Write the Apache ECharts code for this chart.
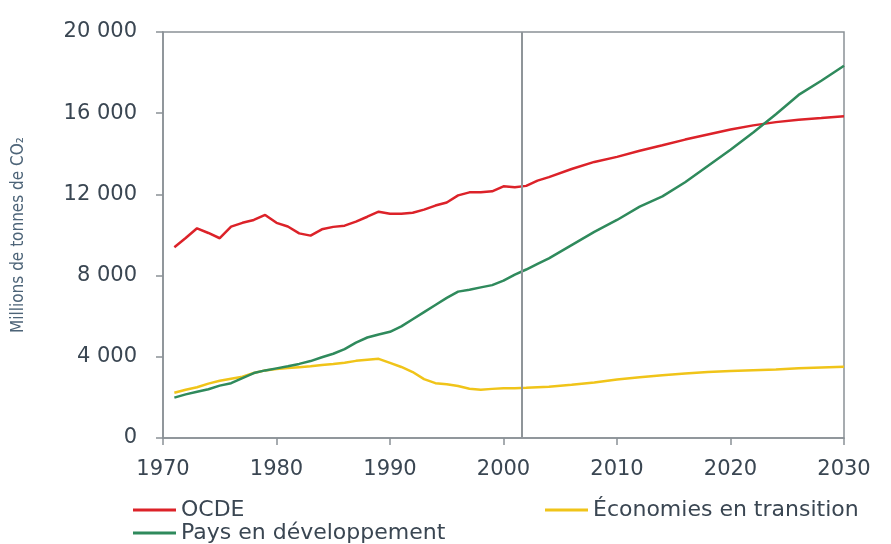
<!DOCTYPE html>
<html>
<head>
<meta charset="utf-8">
<script src="https://cdn.jsdelivr.net/npm/echarts@6/dist/echarts.min.js"></script>
<style>
  html, body { margin: 0; padding: 0; background: #fff; }
  #chart { width: 891px; height: 544px; }
</style>
</head>
<body>
<div id="chart"></div>
<script>
// années (pas régulier après 2004, courbes lisses)
const years = [1971, 1972, 1973, 1974, 1975, 1976, 1977, 1978, 1979, 1980,
  1981, 1982, 1983, 1984, 1985, 1986, 1987, 1988, 1989, 1990,
  1991, 1992, 1993, 1994, 1995, 1996, 1997, 1998, 1999, 2000,
  2001, 2002, 2003, 2004, 2006, 2008, 2010, 2012, 2014, 2016,
  2018, 2020, 2022, 2024, 2026, 2028, 2030];

const ocde = [9400, 9850, 10330, 10100, 9840, 10410, 10600, 10740, 10990, 10600,
  10420, 10080, 9970, 10280, 10400, 10460, 10660, 10900, 11150, 11050,
  11050, 11100, 11250, 11450, 11600, 11950, 12100, 12100, 12150, 12400,
  12350, 12420, 12680, 12850, 13250, 13600, 13850, 14150, 14420, 14700,
  14950, 15200, 15400, 15560, 15680, 15760, 15850];

const paysDev = [1990, 2150, 2280, 2400, 2580, 2700, 2950, 3200, 3330, 3430,
  3530, 3650, 3790, 3980, 4150, 4380, 4700, 4950, 5100, 5230,
  5500, 5850, 6200, 6550, 6900, 7210, 7300, 7420, 7530, 7750,
  8050, 8300, 8580, 8850, 9500, 10150, 10740, 11400, 11900, 12600,
  13400, 14200, 15050, 15950, 16900, 17600, 18340];

const transition = [2230, 2380, 2500, 2680, 2820, 2920, 3020, 3200, 3330, 3400,
  3450, 3490, 3530, 3600, 3650, 3710, 3800, 3860, 3900, 3700,
  3500, 3250, 2900, 2700, 2650, 2560, 2430, 2380, 2420, 2450,
  2450, 2470, 2500, 2520, 2620, 2730, 2880, 2990, 3090, 3180,
  3250, 3300, 3340, 3380, 3430, 3470, 3510];

const projectionStart = 2001.6; // trait vertical

const textColor = "#3a4652";
const axisColor = "#8a9196";
const font = "DejaVu Sans, Verdana, sans-serif";

const chart = echarts.init(document.getElementById("chart"));

const pairs = (vals) => years.map((y, i) => [y, vals[i]]);

// une légende par entrée pour garder la disposition du document
const legendItem = (name, left, top) => ({
  data: [name], left: left, top: top,
  icon: "rect", itemWidth: 43, itemHeight: 3,
  textStyle: { fontSize: 22, color: textColor, fontFamily: font }
});

chart.setOption({
  animation: false,
  grid: {
    left: 163, right: 47, top: 32, bottom: 106,
    show: true, borderColor: axisColor, borderWidth: 1.5, backgroundColor: "transparent"
  },
  legend: [
    legendItem("OCDE", 128, 494),
    legendItem("Pays en développement", 128, 517),
    legendItem("Économies en transition", 540, 494)
  ],
  xAxis: {
    type: "value",
    min: 1970, max: 2030, interval: 10,
    axisLine: { show: true, lineStyle: { color: axisColor, width: 1.5 } },
    axisTick: { show: true, length: 7, lineStyle: { color: axisColor, width: 1.5 } },
    splitLine: { show: false },
    axisLabel: {
      margin: 21, fontSize: 21, color: textColor, fontFamily: font,
      formatter: (v) => String(v)
    }
  },
  yAxis: {
    type: "value",
    min: 0, max: 20000, interval: 4000,
    name: "Millions de tonnes de CO₂",
    nameLocation: "middle",
    nameGap: 136,
    nameTextStyle: { fontSize: 17, color: "#4d6478", fontFamily: "Liberation Sans Narrow, DejaVu Sans Condensed, sans-serif" },
    axisLine: { show: true, lineStyle: { color: axisColor, width: 1.5 } },
    axisTick: { show: true, length: 7, lineStyle: { color: axisColor, width: 1.5 } },
    splitLine: { show: false },
    axisLabel: {
      margin: 26, fontSize: 21, color: textColor, fontFamily: font,
      formatter: (v) => String(v).replace(/\B(?=(\d{3})+(?!\d))/g, " ")
    }
  },
  series: [
    {
      name: "OCDE", type: "line", data: pairs(ocde),
      showSymbol: false, color: "#dc2229", lineStyle: { width: 2.5 },
      markLine: {
        silent: true, symbol: "none", label: { show: false },
        lineStyle: { color: "#8f9599", width: 2, type: "solid" },
        data: [{ xAxis: projectionStart }]
      }
    },
    {
      name: "Économies en transition", type: "line", data: pairs(transition),
      showSymbol: false, color: "#f0c419", lineStyle: { width: 2.5 }
    },
    {
      name: "Pays en développement", type: "line", data: pairs(paysDev),
      showSymbol: false, color: "#2f8a5c", lineStyle: { width: 2.5 }
    }
  ]
});
</script>
</body>
</html>
